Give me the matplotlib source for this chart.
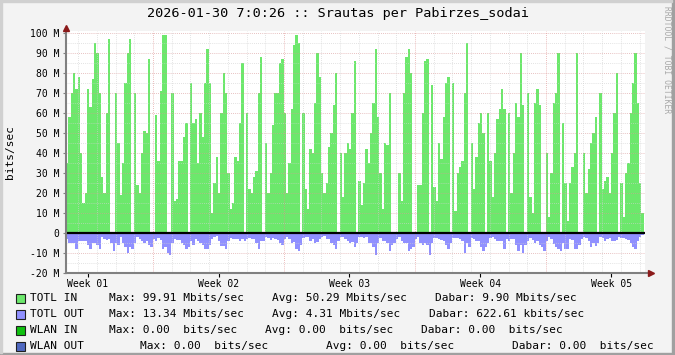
import numpy as np
import matplotlib
matplotlib.use("Agg")
import matplotlib.pyplot as plt
from matplotlib.patches import Rectangle

# traffic samples, 3 h step (8 per day), Mbit/s
totl_in = [
    35, 58, 70, 80, 72, 78, 40, 15, 20, 72,
    63, 77, 95, 90, 70, 28, 20, 60, 97, 0,
    0, 70, 45, 19, 35, 75, 90, 97, 0, 70,
    24, 20, 40, 51, 50, 87, 0, 0, 59, 36,
    71, 99, 99, 0, 0, 70, 16, 17, 36, 36,
    48, 55, 0, 75, 55, 57, 35, 60, 48, 75,
    92, 75, 10, 25, 38, 20, 60, 80, 70, 30,
    12, 15, 38, 36, 55, 85, 0, 60, 22, 20,
    28, 31, 70, 88, 0, 45, 20, 30, 54, 70,
    70, 85, 87, 60, 20, 35, 62, 94, 99, 95,
    0, 60, 22, 12, 42, 40, 65, 90, 78, 30,
    20, 25, 43, 50, 64, 80, 0, 40, 18, 40,
    45, 42, 60, 86, 0, 26, 14, 25, 42, 35,
    50, 65, 92, 58, 30, 12, 45, 44, 70, 0,
    0, 0, 30, 16, 70, 88, 92, 80, 0, 0,
    24, 24, 60, 86, 87, 0, 74, 23, 16, 45,
    37, 58, 75, 78, 0, 75, 11, 30, 33, 36,
    70, 95, 0, 45, 22, 38, 55, 60, 50, 0,
    60, 36, 18, 40, 57, 62, 72, 62, 0, 60,
    20, 40, 65, 58, 90, 64, 0, 70, 18, 10,
    65, 72, 64, 0, 0, 40, 8, 30, 65, 70,
    90, 0, 55, 25, 6, 25, 33, 40, 90, 0,
    0, 40, 20, 32, 45, 50, 58, 0, 70, 22,
    26, 28, 20, 40, 60, 80, 0, 25, 8, 30,
    35, 60, 75, 90, 65, 25, 10,
]
totl_out = [
    -3, -5, -5, -5, -8, -4, -4, -4, -4, -6,
    -8, -5, -5, -6, -8, -2, -3, -3.5, -3, -5,
    -9, -5, -6, -2, -5, -7, -10, -7, -8, -5,
    -2, -3, -4, -5, -4, -6, -7, -3, -4, -2.5,
    -3.5, -8, -7, -10, -11, -5, -3, -3.5, -3.5, -5,
    -6, -8, -7, -4, -6, -3, -4, -5, -6, -8,
    -8, -6, -3, -2, -1.5, -4, -6.5, -6.5, -8, -4,
    -2.5, -3, -3, -3, -4, -3, -4, -3, -2.5, -3,
    -3, -5, -8, -4, -4, -2, -2.5, -3.5, -2.5, -3,
    -3.5, -5, -6, -3, -2, -3, -5, -4.5, -8, -9,
    -6, -2.5, -2, -2, -4, -3, -5, -4.5, -3, -2,
    -1.5, -3, -3, -5, -6, -8, -4, -2, -2, -3,
    -4, -5, -4.5, -7, -5, -2, -2, -2.5, -2, -5,
    -5, -7, -11, -5, -2.5, -4, -4, -5, -9, -6,
    -5, -3, -2, -4, -5, -5, -9, -8, -7, -3,
    -2, -5, -6, -5, -6, -11, -5, -2.5, -2.5, -3,
    -3.5, -4, -6, -8, -5, -2.5, -2.5, -2.5, -3, -4,
    -10, -5, -7, -2.5, -3, -4, -4, -7, -9, -7,
    -5, -2.5, -2, -3, -4, -4, -4, -8, -3, -4,
    -3, -3, -6, -9, -6, -10, -6, -4, -2.5, -3.5,
    -5, -4, -6, -7, -9, -4, -2, -3, -5.5, -7,
    -8, -9, -5, -8, -8, -3, -3.5, -8, -8, -6,
    -3, -2, -2.5, -4, -7, -5, -6.5, -5, -2, -2.5,
    -4, -3, -2.5, -4, -4, -3.5, -2, -2.5, -2.5, -3,
    -3.5, -5, -7, -8, -4, -2, -1,
]
week_labels = ["Week 01", "Week 02", "Week 03", "Week 04", "Week 05"]
ytick_vals = [100, 90, 80, 70, 60, 50, 40, 30, 20, 10, 0, -10, -20]
ytick_text = ["100 M", "90 M", "80 M", "70 M", "60 M", "50 M", "40 M", "30 M",
              "20 M", "10 M", "0", "-10 M", "-20 M"]
legend_rows = [
    ("TOTL IN", "#6CE86C", [(109, "Max: 99.91 Mbits/sec"), (272, "Avg: 50.29 Mbits/sec"), (435, "Dabar: 9.90 Mbits/sec")]),
    ("TOTL OUT", "#9090FF", [(109, "Max: 13.34 Mbits/sec"), (272, "Avg: 4.31 Mbits/sec"), (429, "Dabar: 622.61 kbits/sec")]),
    ("WLAN IN", "#10C010", [(109, "Max: 0.00  bits/sec"), (265, "Avg: 0.00  bits/sec"), (421, "Dabar: 0.00  bits/sec")]),
    ("WLAN OUT", "#4F68C0", [(140, "Max: 0.00  bits/sec"), (326, "Avg: 0.00  bits/sec"), (512, "Dabar: 0.00  bits/sec")]),
]

W, H = 675, 355
MONO = "DejaVu Sans Mono"
step = 0.125          # days
week0 = 4.649         # first week boundary, days from left edge
xmax = (645 - 66) / 18.714

def fx(x):
    return x / W

def fy(y):
    return 1 - y / H

fig = plt.figure(figsize=(W / 100, H / 100), dpi=100)
fig.patch.set_facecolor("#F3F3F3")

ax = fig.add_axes([fx(66), fy(273), (645 - 66) / W, (273 - 31) / H])
ax.set_facecolor("white")
ax.set_xlim(0, xmax)
ax.set_ylim(-20, 101)
for s in ax.spines.values():
    s.set_visible(False)

t = np.arange(len(totl_in) + 1) * step
vin = np.append(totl_in, totl_in[-1])
vout = np.append(totl_out, totl_out[-1])
ax.fill_between(t, 0, vin, step="post", color="#6CE86C", lw=0, zorder=1)
ax.fill_between(t, 0, vout, step="post", color="#9090FF", lw=0, zorder=1)

# grid, drawn over the data like rrdtool
dot = (0, (1, 1.5))
for y in range(-15, 101, 5):
    if y % 10:
        ax.axhline(y, color="#D0D0D0", lw=0.6, ls=dot, alpha=0.8, zorder=2)
    elif y not in (0, -20):
        ax.axhline(y, color="#D89898", lw=0.6, ls=dot, alpha=0.8, zorder=2)
d = week0 - 7
while d < xmax:
    if d > 0:
        wk = abs((d - week0) / 7 - round((d - week0) / 7)) < 1e-6
        ax.axvline(d, color="#E09090" if wk else "#D0D0D0", lw=0.6, ls=dot, alpha=0.8, zorder=2)
    d += 1

ax.axhline(0, color="black", lw=1.6, zorder=3)

# axes with arrows
ax.plot([0, 0], [-20, 101.5], color="#808080", lw=1.5, clip_on=False, zorder=4)
ax.plot([0, xmax + 0.3], [-20, -20], color="#808080", lw=1.5, clip_on=False, zorder=4)
ax.plot([0], [102.5], marker="^", ms=5, color="#8B1A1A", clip_on=False, zorder=5)
ax.plot([xmax + 0.33], [-20], marker=">", ms=5, color="#8B1A1A", clip_on=False, zorder=5)

ax.set_yticks(ytick_vals)
ax.set_yticklabels(ytick_text, family=MONO, fontsize=7)
ax.tick_params(axis="y", length=2, width=0.8, color="#808080", pad=3)
label_x = [week0 - 3.5 + 7 * k for k in range(len(week_labels))]
ax.set_xticks(label_x)
ax.set_xticklabels(week_labels, family=MONO, fontsize=7)
ax.tick_params(axis="x", length=3, width=0.8, color="black", pad=1)

fig.text(0.5, fy(14), "2026-01-30 7:0:26 :: Srautas per Pabirzes_sodai",
         family=MONO, fontsize=9.7, ha="center", va="center")
fig.text(fx(10), fy(152), "bits/sec", family=MONO, fontsize=8,
         rotation=90, ha="center", va="center")
fig.text(fx(667), fy(6), "RRDTOOL / TOBI OETIKER", family=MONO, fontsize=5.8,
         color="#A8A8A8", rotation=-90, ha="center", va="top")

for r, (name, col, items) in enumerate(legend_rows):
    yc = 298 + 16 * r
    fig.patches.append(Rectangle((fx(16), fy(yc + 4.5)), 9 / W, 9 / H, transform=fig.transFigure,
                                 facecolor=col, edgecolor="#202020", lw=0.8))
    fig.text(fx(30), fy(yc), name, family=MONO, fontsize=8, va="center")
    for x, s in items:
        fig.text(fx(x), fy(yc), s, family=MONO, fontsize=8, va="center")

# shaded frame
fig.patches.append(Rectangle((0, 0), 1, 2 / H, transform=fig.transFigure, color="#A0A0A0"))
fig.patches.append(Rectangle((1 - 3 / W, 0), 3 / W, 1, transform=fig.transFigure, color="#A0A0A0"))
fig.patches.append(Rectangle((0, 1 - 2 / H), 1 - 3 / W, 2 / H, transform=fig.transFigure, color="#D0D0D0"))
fig.patches.append(Rectangle((0, 2 / H), 2 / W, 1, transform=fig.transFigure, color="#D0D0D0"))

fig.savefig("out.png", dpi=100, facecolor=fig.get_facecolor())
